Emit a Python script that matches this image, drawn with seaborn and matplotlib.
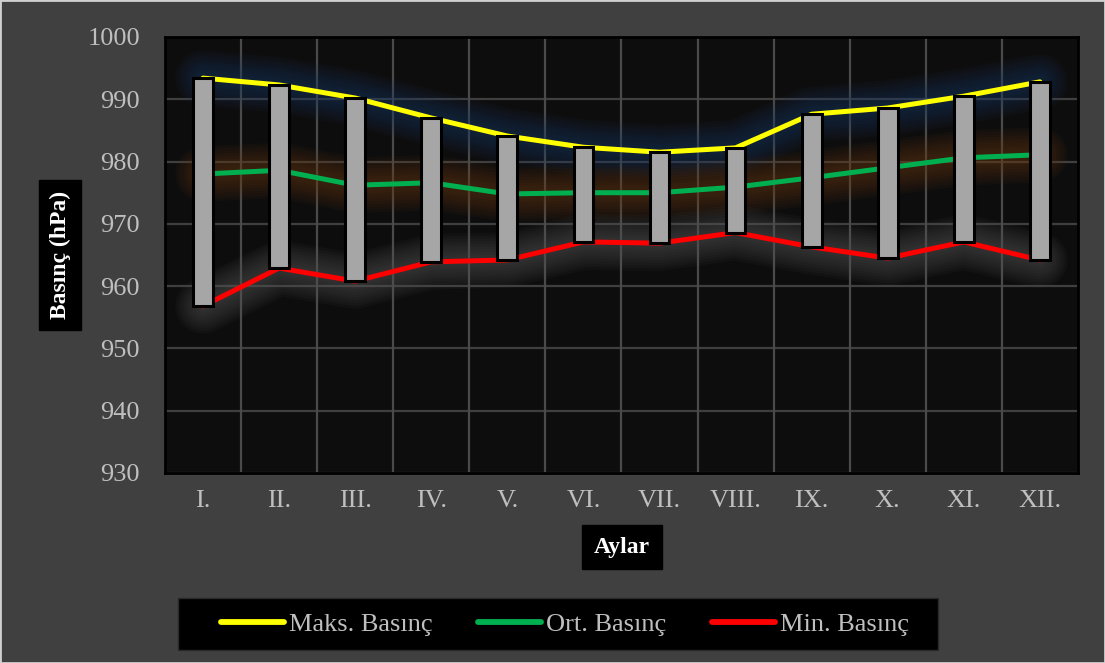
import matplotlib
matplotlib.use("Agg")
import matplotlib.pyplot as plt
from matplotlib.patches import Rectangle
import seaborn as sns
import pandas as pd

# Monthly pressure statistics (hPa)
months = ["I.", "II.", "III.", "IV.", "V.", "VI.", "VII.", "VIII.", "IX.", "X.", "XI.", "XII."]
max_pressure = [993.4, 992.3, 990.2, 987.0, 984.1, 982.3, 981.5, 982.2, 987.6, 988.6, 990.5, 992.8]
mean_pressure = [978.0, 978.6, 976.2, 976.6, 974.8, 975.0, 975.0, 975.9, 977.4, 979.0, 980.6, 981.1]
min_pressure = [956.8, 962.9, 960.8, 963.9, 964.2, 967.1, 966.9, 968.6, 966.3, 964.5, 967.1, 964.2]
y_ticks = [930, 940, 950, 960, 970, 980, 990, 1000]

series_names = ["Maks. Basınç", "Ort. Basınç", "Min. Basınç"]
series_values = [max_pressure, mean_pressure, min_pressure]
line_colors = ["#ffff00", "#00b050", "#ff0000"]
glow_colors = ["#1d3a66", "#6b3a10", "#5a5a5a"]

df = pd.DataFrame({"Ay": months * 3,
                   "Basınç": max_pressure + mean_pressure + min_pressure,
                   "Seri": sum([[n] * len(months) for n in series_names], [])})

sns.set_theme(style="dark")
plt.rcParams["font.family"] = ["Liberation Serif", "DejaVu Serif"]

fig = plt.figure(figsize=(11.05, 6.63), dpi=100, facecolor="#404040")
fig.patches.append(Rectangle((0, 0), 1, 1, transform=fig.transFigure, fill=False,
                             edgecolor="#d0d0d0", linewidth=2))
ax = fig.add_axes([0.1493, 0.2866, 0.8262, 0.6576])
ax.set_facecolor("#0d0d0d")

# soft glow under each line
x_idx = list(range(len(months)))
for vals, gc in zip(series_values, glow_colors):
    for lw in range(40, 6, -4):
        ax.plot(x_idx, vals, color=gc, linewidth=lw, alpha=0.07, solid_capstyle="round", zorder=1)

sns.lineplot(data=df, x="Ay", y="Basınç", hue="Seri", palette=line_colors, hue_order=series_names,
             linewidth=3.6, ax=ax, zorder=3, sort=False, legend=False)

# high-low bars spanning min to max
heights = [mx - mn for mx, mn in zip(max_pressure, min_pressure)]
ax.bar(x_idx, heights, bottom=min_pressure, width=0.26, color="#a6a6a6",
       edgecolor="black", linewidth=2.2, zorder=4)

ax.set_xlim(-0.5, len(months) - 0.5)
ax.set_ylim(930, 1000)
ax.set_yticks(y_ticks)
ax.set_xticks(x_idx)
ax.set_xticklabels(months)

# grid: horizontal at ticks, vertical between categories
for y in y_ticks:
    ax.axhline(y, color="#3f3f3f", linewidth=1.6, zorder=0.5)
for xb in range(1, len(months)):
    ax.axvline(xb - 0.5, color="#4a4a4a", linewidth=1.6, zorder=0.5)
ax.grid(False)

for sp in ax.spines.values():
    sp.set_color("black")
    sp.set_linewidth(2)

ax.tick_params(axis="y", colors="#bfbfbf", labelsize=19, pad=18, length=0)
ax.tick_params(axis="x", colors="#bfbfbf", labelsize=19, pad=12, length=0)
ax.set_xlabel("")
ax.set_ylabel("")

fig.text(60 / 1105, 1 - 255 / 663, "Basınç (hPa)", rotation=90, ha="center", va="center",
         color="white", fontsize=17, fontweight="bold",
         bbox=dict(boxstyle="square,pad=0.45", facecolor="black", edgecolor="black"))
fig.text(622 / 1105, 1 - 547 / 663, "Aylar", ha="center", va="center",
         color="white", fontsize=17, fontweight="bold",
         bbox=dict(boxstyle="square,pad=0.5", facecolor="black", edgecolor="black"))

# legend panel
fig.patches.append(Rectangle((178 / 1105, 1 - 650 / 663), 760 / 1105, 52 / 663,
                             transform=fig.transFigure, facecolor="black", edgecolor="#2a2a2a",
                             linewidth=1, zorder=1))
handles = [plt.Line2D([], [], color=c, linewidth=4.2, solid_capstyle="round") for c in line_colors]
leg = fig.legend(handles, series_names, loc="center", bbox_to_anchor=(565 / 1105, 1 - 624 / 663),
                 ncol=3, frameon=False, fontsize=19, handlelength=2.4, handletextpad=0.2,
                 columnspacing=1.7, borderpad=0.3, labelcolor="#bfbfbf")

fig.savefig("out.png", dpi=100, facecolor=fig.get_facecolor())
